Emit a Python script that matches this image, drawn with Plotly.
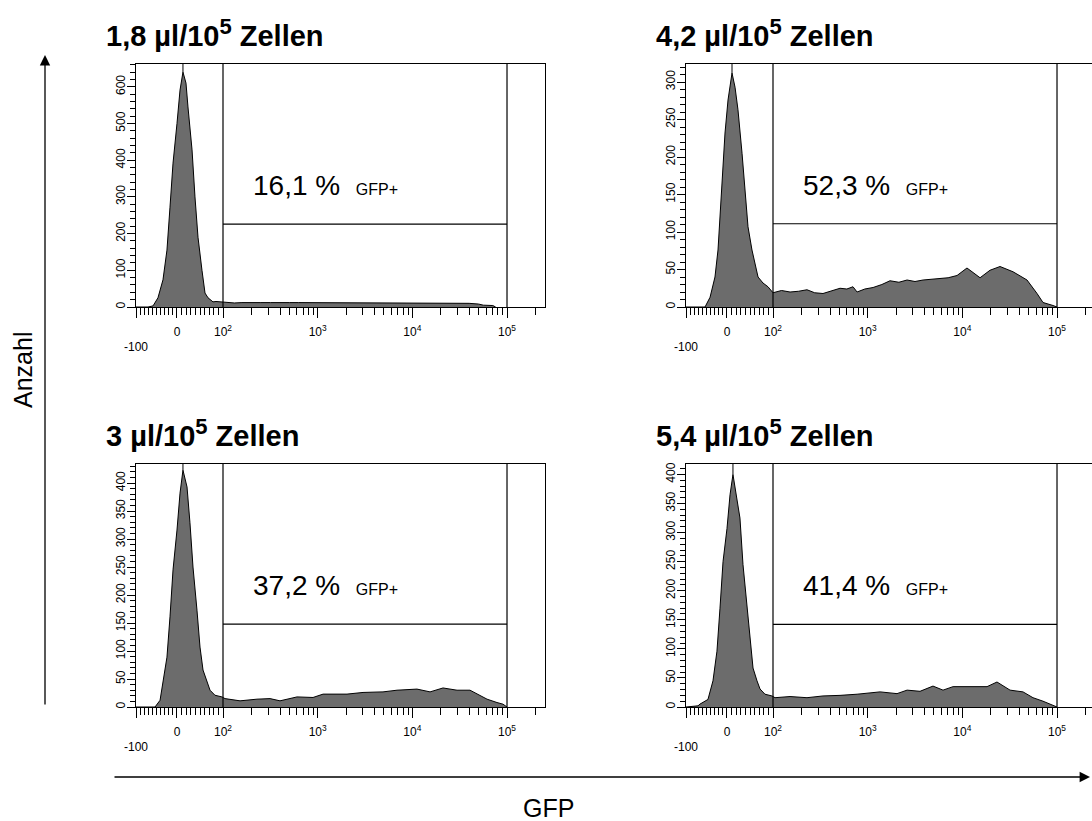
import numpy as np
import plotly.graph_objects as go

W, H = 1092, 821
FONT = "Liberation Sans, Arial, sans-serif"

# GFP histograms on a display scale: one unit per decade above 10^2,
# a linear segment around zero below it (biexponential-style axis).
x_a = [1.081, 1.208, 1.261, 1.313, 1.366, 1.408, 1.440, 1.472, 1.514, 1.546, 1.577, 1.609, 1.630,
       1.673, 1.704, 1.736, 1.778, 1.810, 1.842, 1.894, 1.926, 1.968, 2.000, 2.05, 2.12, 2.2, 2.3,
       2.4, 2.5, 2.6, 2.7, 2.8, 2.9, 3.0, 3.1, 3.2, 3.3, 3.4, 3.5, 3.6, 3.7, 3.8, 3.9, 4.0, 4.1,
       4.2, 4.3, 4.4, 4.5, 4.6, 4.7, 4.75, 4.85, 4.88]
count_a = [0, 0, 3, 25, 74, 155, 272, 392, 500, 591, 640, 610, 545,
           428, 300, 190, 100, 38, 25, 14, 15, 14, 13, 12, 11, 12, 11,
           12, 12, 11, 12, 12, 12, 12, 12, 11, 12, 12, 12, 12, 11, 11, 12, 11, 12,
           11, 11, 11, 10, 10, 8, 5, 4, 0]

x_b = [1.081, 1.282, 1.335, 1.387, 1.419, 1.461, 1.493, 1.525, 1.567, 1.599, 1.630, 1.673, 1.704,
       1.736, 1.778, 1.810, 1.842, 1.894, 1.947, 2.000, 2.09, 2.180, 2.27, 2.359, 2.44, 2.528,
       2.62, 2.708, 2.78, 2.845, 2.888, 2.97, 3.057, 3.15, 3.236, 3.33, 3.416, 3.50, 3.585, 3.68,
       3.764, 3.85, 3.944, 4.049, 4.113, 4.187, 4.292, 4.398, 4.535, 4.683, 4.789, 4.852, 4.958, 5.0]
count_b = [0, 0, 13, 40, 76, 156, 232, 276, 312, 293, 263, 205, 152,
           107, 76, 58, 40, 32, 27, 19, 22, 20, 21, 23, 19, 18,
           22, 25, 24, 27, 20, 24, 26, 30, 35, 33, 36, 34, 36, 37,
           38, 39, 42, 52, 46, 39, 49, 54, 47, 36, 18, 6, 2, 0]

x_c = [1.081, 1.282, 1.335, 1.366, 1.408, 1.440, 1.472, 1.514, 1.546, 1.577, 1.620, 1.651, 1.683,
       1.725, 1.757, 1.789, 1.831, 1.863, 1.915, 1.989, 2.021, 2.180, 2.359, 2.497, 2.602, 2.782,
       2.951, 3.057, 3.310, 3.479, 3.690, 3.838, 4.049, 4.187, 4.324, 4.472, 4.609, 4.683, 4.789,
       4.894, 4.958, 5.0]
count_c = [0, 0, 12, 43, 89, 161, 245, 316, 382, 423, 393, 329, 250,
           173, 107, 66, 43, 30, 21, 18, 15, 11, 14, 15, 11, 18,
           17, 23, 23, 26, 27, 30, 32, 27, 34, 30, 30, 24, 14,
           8, 5, 0]

x_d = [1.081, 1.208, 1.229, 1.313, 1.366, 1.408, 1.440, 1.472, 1.514, 1.546, 1.577, 1.620, 1.651,
       1.683, 1.725, 1.757, 1.789, 1.831, 1.863, 1.915, 1.989, 2.021, 2.180, 2.359, 2.528, 2.708,
       2.888, 3.131, 3.310, 3.416, 3.553, 3.690, 3.796, 3.902, 4.113, 4.261, 4.366, 4.504, 4.641,
       4.746, 4.852, 4.958, 5.0]
count_d = [0, 2, 5, 13, 45, 96, 170, 250, 307, 365, 400, 360, 325,
           245, 177, 113, 67, 45, 31, 22, 19, 16, 18, 16, 19, 20,
           22, 26, 23, 29, 27, 36, 29, 35, 35, 35, 43, 29, 26,
           16, 10, 3, 0]

titles = ["1,8 µl/10<sup><span style='font-size:22px'>5</span></sup> Zellen",
          "4,2 µl/10<sup><span style='font-size:22px'>5</span></sup> Zellen",
          "3 µl/10<sup><span style='font-size:22px'>5</span></sup> Zellen",
          "5,4 µl/10<sup><span style='font-size:22px'>5</span></sup> Zellen"]
percents = ["16,1 %", "52,3 %", "37,2 %", "41,4 %"]
gate_levels = [226, 111, 148, 142]
y_tops = [662, 324, 434, 418]
y_steps = [(100, 20), (50, 10), (50, 10), (50, 10)]

x_ticklabels = ["<br>-100", "0", "10<sup>2</sup>", "10<sup>3</sup>", "10<sup>4</sup>", "10<sup>5</sup>"]


def disp(v):
    """Map a fluorescence value onto the display scale."""
    if v >= 100:
        return float(np.log10(v))
    if v >= 0:
        return 1.514 + v / 100 * (2 - 1.514)
    return 1.514 + v / 100 * (1.514 - 1.081)


major_x = [disp(-100), disp(0), 2, 3, 4, 5]
minor_x = [disp(v) for v in range(-90, 100, 10) if v != 0]
for dec in (100, 1000, 10000, 100000):
    for m in range(2, 10):
        minor_x.append(disp(m * dec))

panels = [
    dict(x=x_a, y=count_a, col=0, row=0),
    dict(x=x_b, y=count_b, col=1, row=0),
    dict(x=x_c, y=count_c, col=0, row=1),
    dict(x=x_d, y=count_d, col=1, row=1),
]

# pixel frame of each panel
col_left = [136, 686]
row_top = [64, 464]
row_bottom = [307, 707]
decade_px = 94.67
x0_disp = 1.081

fig = go.Figure()
annotations = []
shapes = []
layout = {}

for i, p in enumerate(panels):
    n = "" if i == 0 else str(i + 1)
    xa, ya = "x" + n, "y" + n
    left = col_left[p["col"]]
    right = min(left + 409, W)
    top, bottom = row_top[p["row"]], row_bottom[p["row"]]
    x_hi = x0_disp + (right - left) / decade_px

    fig.add_trace(go.Scatter(
        x=p["x"], y=p["y"], xaxis=xa, yaxis=ya, mode="lines",
        fill="tozeroy", fillcolor="#6c6c6c",
        line=dict(color="black", width=1), showlegend=False, hoverinfo="skip"))

    major, minor = y_steps[i]
    ytop = y_tops[i]
    layout["xaxis" + n] = dict(
        domain=[left / W, right / W], range=[x0_disp, x_hi], anchor=ya,
        showline=True, linecolor="black", linewidth=1.3, mirror=True,
        showgrid=False, zeroline=False, automargin=False,
        tickmode="array", tickvals=major_x, ticktext=x_ticklabels,
        ticks="outside", ticklen=10, tickwidth=1.2, tickcolor="black",
        ticklabelstandoff=3,
        tickfont=dict(family=FONT, size=12, color="black"),
        minor=dict(tickmode="array", tickvals=minor_x, ticks="outside",
                   ticklen=7, tickwidth=1.2, tickcolor="black"),
        fixedrange=True)
    layout["yaxis" + n] = dict(
        domain=[1 - bottom / H, 1 - top / H], range=[0, ytop], anchor=xa,
        showline=True, linecolor="black", linewidth=1.3, mirror=(p["col"] == 0),
        showgrid=False, zeroline=False, automargin=False,
        tickmode="array", tickvals=list(range(0, ytop, major)),
        ticktext=[str(v) for v in range(0, ytop, major)], tickangle=-90,
        ticks="outside", ticklen=8, tickwidth=1.2, tickcolor="black",
        ticklabelstandoff=-3,
        tickfont=dict(family=FONT, size=12, color="black"),
        minor=dict(tickmode="array", tickvals=list(range(0, ytop, minor)), ticks="outside",
                   ticklen=5, tickwidth=1.2, tickcolor="black"),
        fixedrange=True)

    # GFP+ gate
    line = dict(color="black", width=1.2)
    shapes.append(dict(type="line", xref=xa, yref=ya + " domain", x0=2, x1=2, y0=0, y1=1, line=line))
    shapes.append(dict(type="line", xref=xa, yref=ya + " domain", x0=5, x1=5, y0=0, y1=1, line=line))
    shapes.append(dict(type="line", xref=xa, yref=ya, x0=2, x1=5,
                       y0=gate_levels[i], y1=gate_levels[i], line=line))
    # marker at the histogram peak
    k = int(np.argmax(p["y"]))
    shapes.append(dict(type="line", xref=xa, yref=ya, x0=p["x"][k], x1=p["x"][k],
                       y0=p["y"][k], y1=ytop, line=dict(color="black", width=1)))

    annotations.append(dict(
        xref=xa, yref=ya + " domain", x=2.3, y=0.5, xanchor="left", yanchor="middle",
        text=percents[i] + "  <span style='font-size:16px'>GFP+</span>",
        showarrow=False, font=dict(family=FONT, size=28, color="black")))
    annotations.append(dict(
        xref="paper", yref="paper", x=(left - 32) / W, y=1 - (top - 31) / H,
        xanchor="left", yanchor="middle", text="<b>" + titles[i] + "</b>",
        showarrow=False, font=dict(family=FONT, size=29, color="black")))

# shared axis captions with arrows
annotations.append(dict(xref="paper", yref="paper", x=45 / W, y=1 - 55 / H,
                        ax=0, ay=651, text="", showarrow=True, arrowhead=2,
                        arrowsize=1.6, arrowwidth=1.3, arrowcolor="black"))
annotations.append(dict(xref="paper", yref="paper", x=1090 / W, y=1 - 777 / H,
                        ax=-977, ay=0, text="", showarrow=True, arrowhead=2,
                        arrowsize=1.6, arrowwidth=1.3, arrowcolor="black"))
annotations.append(dict(xref="paper", yref="paper", x=23 / W, y=1 - 370 / H,
                        xanchor="center", yanchor="middle",
                        text="Anzahl", textangle=-90, showarrow=False,
                        font=dict(family=FONT, size=25, color="black")))
annotations.append(dict(xref="paper", yref="paper", x=548 / W, y=1 - 808 / H,
                        xanchor="center", yanchor="middle",
                        text="GFP", showarrow=False,
                        font=dict(family=FONT, size=25, color="black")))

fig.update_layout(
    width=W, height=H, margin=dict(l=0, r=0, t=0, b=0, autoexpand=False),
    paper_bgcolor="white", plot_bgcolor="white",
    annotations=annotations, shapes=shapes, **layout)

fig.write_html("out.html")
